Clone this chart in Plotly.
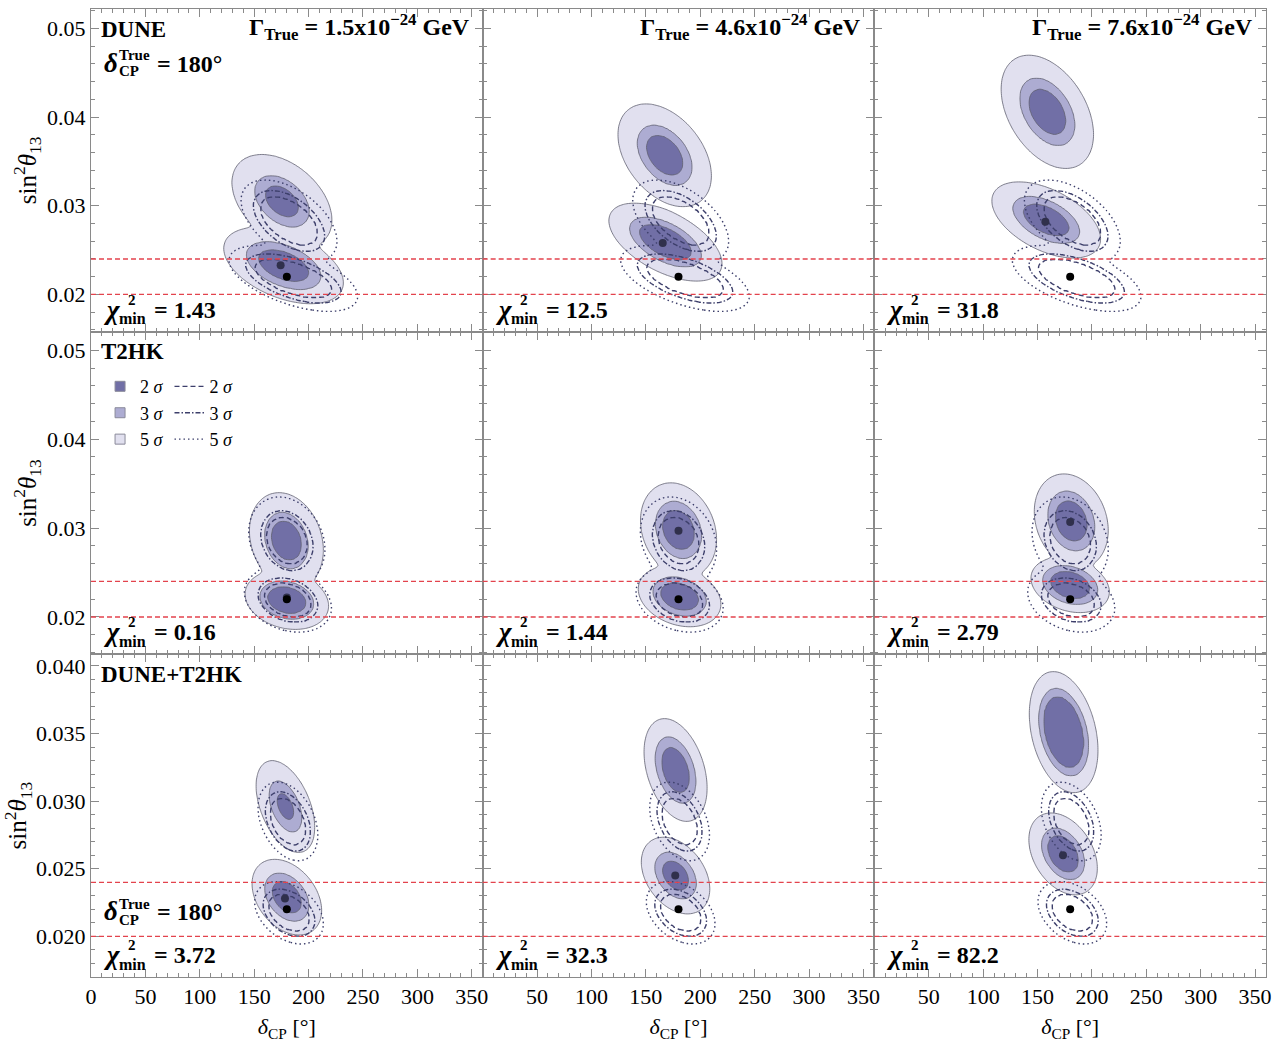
import numpy as np
import plotly.graph_objects as go
from plotly.subplots import make_subplots

# ---------------- data ----------------
experiments = ["DUNE", "T2HK", "DUNE+T2HK"]
gamma_true = ["1.5", "4.6", "7.6"]          # x 10^-24 GeV, one per column
chi2_min = [["1.43", "12.5", "31.8"],
            ["0.16", "1.44", "2.79"],
            ["3.72", "32.3", "82.2"]]
delta_true = 180.0
s13_true = 0.022
s13_band = [0.020, 0.024]
sigma_labels = ["2", "3", "5"]

y_ranges = [[0.0158, 0.0522], [0.0158, 0.0521], [0.0170, 0.04085]]
y_ticks = [[0.02, 0.03, 0.04, 0.05], [0.02, 0.03, 0.04, 0.05],
           [0.020, 0.025, 0.030, 0.035, 0.040]]
y_ticktext = [["0.02", "0.03", "0.04", "0.05"], ["0.02", "0.03", "0.04", "0.05"],
              ["0.020", "0.025", "0.030", "0.035", "0.040"]]
y_minor = [0.002, 0.002, 0.001]

bestfit_delta = [[174.3, 165.5, 157.2], [180.0, 180.0, 180.0], [178.3, 177.0, 173.4]]
bestfit_s13 = [[0.0233, 0.0258, 0.0282], [0.0222, 0.0297, 0.0307], [0.0228, 0.0245, 0.0260]]

# filled allowed regions (fit with decay): two minima per panel [upper, lower]
# centre, 5-sigma half extent in delta and s13, correlation, 2/3-sigma size fractions
fill_cx = [[[175.5, 177.0], [167.3, 168.0], [159.0, 158.0]],
           [[179.6, 180.0], [180.0, 181.0], [181.0, 180.0]],
           [[178.7, 180.0], [177.3, 177.3], [174.0, 173.5]]]
fill_cy = [[[0.0305, 0.02325], [0.0357, 0.0259], [0.0406, 0.0284]],
           [[0.0286, 0.0219], [0.0298, 0.0223], [0.0308, 0.0236]],
           [[0.0296, 0.0229], [0.0323, 0.0245], [0.0351, 0.0261]]]
fill_hx = [[[46.0, 55.0], [43.0, 52.0], [42.5, 50.0]],
           [[34.0, 38.4], [35.0, 38.0], [34.0, 36.0]],
           [[27.0, 32.0], [29.0, 31.5], [31.5, 31.5]]]
fill_hy = [[[0.0053, 0.0043], [0.0058, 0.0044], [0.0064, 0.0043]],
           [[0.0054, 0.0033], [0.0053, 0.0034], [0.0053, 0.0031]],
           [[0.0034, 0.0028], [0.0038, 0.00284], [0.00447, 0.00303]]]
fill_rho = [[[-0.4, -0.45], [-0.4, -0.55], [-0.4, -0.5]],
            [[-0.2, -0.2], [-0.2, -0.25], [-0.2, -0.25]],
            [[-0.45, -0.35], [-0.35, -0.35], [-0.3, -0.35]]]
fill_f2 = [[[0.33, 0.42], [0.39, 0.46], [0.40, 0.42]],
           [[0.41, 0.46], [0.42, 0.46], [0.43, 0.50]],
           [[0.28, 0.42], [0.44, 0.38], [0.59, 0.45]]]
fill_f3 = [[[0.54, 0.62], [0.58, 0.63], [0.59, 0.61]],
           [[0.58, 0.64], [0.60, 0.64], [0.63, 0.70]],
           [[0.55, 0.63], [0.64, 0.60], [0.72, 0.62]]]

# line contours (standard fit), same in every column of a row: [upper, lower]
line_cx = [[182.0, 186.0], [180.0, 181.0], [181.0, 182.0]]
line_cy = [[0.0283, 0.0218], [0.0286, 0.0219], [0.0285, 0.02175]]
line_hx = [[44.0, 59.0], [35.0, 40.0], [27.4, 31.5]]
line_hy = [[0.0046, 0.0037], [0.0049, 0.0036], [0.0029, 0.0023]]
line_rho = [[-0.5, -0.55], [-0.2, -0.25], [-0.35, -0.35]]
line_f2 = [0.60, 0.54, 0.60]
line_f3 = [0.74, 0.68, 0.75]

# ---------------- styles ----------------
SERIF = "Liberation Serif"
DARK, MID, LIGHT = "#716fa6", "#adacd2", "#e1e0ef"
OUTLINE = "#5f5f70"
LINE_C = "#3d3f6b"
RED = "#e3434d"
AX = "#8a8a8a"
DASHES = ["5px,3px", "5px,2px,1.5px,2px", "1.5px,3px"]
FILL_SCALE = [[0, "rgba(255,255,255,0)"], [0.166, "rgba(255,255,255,0)"],
              [0.167, LIGHT], [0.5, LIGHT], [0.501, MID], [0.833, MID],
              [0.834, DARK], [1, DARK]]


def blob_g(X, Y, cx, cy, hx, hy, rho, f2, f3):
    u = (X - cx) / hx
    v = (Y - cy) / hy
    d = np.sqrt(np.clip((u * u - 2 * rho * u * v + v * v) / (1 - rho * rho), 0, None))
    return np.interp(d, [0, f2, f3, 1, 10], [0, 1, 2, 3, 30])


def smin(a, b, k):
    m = np.minimum(a, b)
    return m - k * np.log(np.exp(-(a - m) / k) + np.exp(-(b - m) / k))


fig = make_subplots(rows=3, cols=3, horizontal_spacing=0, vertical_spacing=0)

X = np.arange(80.0, 290.01, 1.5)
for r in range(3):
    lo, hi = y_ranges[r]
    Y = np.linspace(lo, hi, 150)
    XX, YY = np.meshgrid(X, Y)
    gl = None
    for b in range(2):
        g = blob_g(XX, YY, line_cx[r][b], line_cy[r][b], line_hx[r][b], line_hy[r][b],
                   line_rho[r][b], line_f2[r], line_f3[r])
        gl = g if gl is None else smin(gl, g, 0.3)
    gl_list = np.round(gl, 2).tolist()
    for c in range(3):
        gf = None
        for b in range(2):
            g = blob_g(XX, YY, fill_cx[r][c][b], fill_cy[r][c][b], fill_hx[r][c][b],
                       fill_hy[r][c][b], fill_rho[r][c][b], fill_f2[r][c][b], fill_f3[r][c][b])
            gf = g if gf is None else smin(gf, g, 0.2)
        fig.add_trace(go.Contour(
            x=X, y=Y, z=np.round(-gf, 3).tolist(), autocontour=False,
            contours=dict(start=-3, end=-1, size=1, coloring="fill", showlines=True),
            colorscale=FILL_SCALE, line=dict(color=OUTLINE, width=0.8, smoothing=1),
            showscale=False, hoverinfo="skip", showlegend=False), row=r + 1, col=c + 1)
        for lev, dash in zip([1, 2, 3], DASHES):
            fig.add_trace(go.Contour(
                x=X, y=Y, z=gl_list, autocontour=False,
                contours=dict(start=lev, end=lev, size=1, coloring="none"),
                line=dict(color=LINE_C, width=1.4, dash=dash, smoothing=1),
                showscale=False, hoverinfo="skip", showlegend=False), row=r + 1, col=c + 1)
        for v in s13_band:
            fig.add_hline(y=v, line=dict(color=RED, width=1.3, dash="5px,3px"),
                          row=r + 1, col=c + 1)
        fig.add_trace(go.Scatter(x=[bestfit_delta[r][c]], y=[bestfit_s13[r][c]], mode="markers",
                                 marker=dict(size=8, color="#30304c"), showlegend=False,
                                 hoverinfo="skip"), row=r + 1, col=c + 1)
        fig.add_trace(go.Scatter(x=[delta_true], y=[s13_true], mode="markers",
                                 marker=dict(size=8, color="black"), showlegend=False,
                                 hoverinfo="skip"), row=r + 1, col=c + 1)

# legend entries
for lab, col in zip(sigma_labels, [DARK, MID, LIGHT]):
    fig.add_trace(go.Scatter(x=[None], y=[None], mode="markers", name=f"{lab} <i>σ</i>",
                             marker=dict(symbol="square", size=10, color=col,
                                         line=dict(color="#8a8a9a", width=1)),
                             legend="legend"), row=2, col=1)
for lab, dash in zip(sigma_labels, DASHES):
    fig.add_trace(go.Scatter(x=[None], y=[None], mode="lines", name=f"{lab} <i>σ</i>",
                             line=dict(color=LINE_C, width=1.3, dash=dash),
                             legend="legend2"), row=2, col=1)

# axes
for r in range(3):
    for c in range(3):
        fig.update_xaxes(range=[0, 360], tickvals=(list(range(0, 360, 50)) if c == 0 else list(range(50, 360, 50))),
                         ticks="inside", ticklen=8, tickcolor=AX, showline=True, linecolor=AX,
                         linewidth=1, mirror="allticks", showgrid=False, zeroline=False,
                         showticklabels=(r == 2),
                         tickfont=dict(family=SERIF, size=22, color="black"),
                         minor=dict(dtick=10, tick0=0, ticks="inside", ticklen=4, tickcolor=AX),
                         row=r + 1, col=c + 1)
        fig.update_yaxes(range=y_ranges[r], tickvals=y_ticks[r], ticktext=y_ticktext[r],
                         ticks="inside", ticklen=8, tickcolor=AX, showline=True, linecolor=AX,
                         linewidth=1, mirror="allticks", showgrid=False, zeroline=False,
                         showticklabels=(c == 0),
                         tickfont=dict(family=SERIF, size=22, color="black"),
                         minor=dict(dtick=y_minor[r], tick0=0, ticks="inside", ticklen=4, tickcolor=AX),
                         row=r + 1, col=c + 1)
    fig.update_yaxes(title=dict(text="sin<sup>2</sup><i>θ</i><sub>13</sub>",
                                font=dict(family=SERIF, size=25, color="black"), standoff=3),
                     row=r + 1, col=1)
for c in range(3):
    fig.update_xaxes(title=dict(text="<i>δ</i><sub>CP</sub> [°]",
                                font=dict(family=SERIF, size=22, color="black"), standoff=10),
                     row=3, col=c + 1)


def ann(i, text, dx, dy, size, top=True, right=False):
    xr = "x domain" if i == 1 else f"x{i} domain"
    yr = "y domain" if i == 1 else f"y{i} domain"
    fig.add_annotation(xref=xr, yref=yr, x=1 if right else 0, y=1 if top else 0,
                       xshift=-dx if right else dx, yshift=-dy if top else dy,
                       xanchor="right" if right else "left", yanchor="middle",
                       text=text, showarrow=False,
                       font=dict(family=SERIF, size=size, color="black"))


for r in range(3):
    ann(r * 3 + 1, f"<b>{experiments[r]}</b>", 8, 20, 23)
    for c in range(3):
        i = r * 3 + c + 1
        ann(i, "<b><i>χ</i></b>", 10, 22, 27, top=False)
        ann(i, "<b>2</b>", 35, 32, 15, top=False)
        ann(i, "<b>min</b>", 26, 13, 16, top=False)
        ann(i, f"<b>= {chi2_min[r][c]}</b>", 61, 22, 24, top=False)
for c in range(3):
    ann(c + 1, f"<b>Γ<sub>True</sub> = {gamma_true[c]}x10<sup>−24</sup> GeV</b>", 11, 18, 24, right=True)

# delta_CP^True labels
for i, top, ys in [(1, True, (54, 46, 62, 55)), (7, False, (66, 73, 57, 65))]:
    ann(i, "<b><i>δ</i></b>", 11, ys[0], 27, top=top)
    ann(i, "<b>True</b>", 26, ys[1], 15, top=top)
    ann(i, "<b>CP</b>", 26, ys[2], 15, top=top)
    ann(i, "<b>= 180°</b>", 64, ys[3], 24, top=top)

fig.update_layout(
    width=1280, height=1043,
    margin=dict(l=91, r=9, t=8, b=65),
    paper_bgcolor="white", plot_bgcolor="white",
    font=dict(family=SERIF, color="black"),
    legend=dict(x=0.0077, y=0.629, xanchor="left", yanchor="top", bgcolor="rgba(0,0,0,0)",
                font=dict(family=SERIF, size=18, color="black"), itemwidth=30, tracegroupgap=0),
    legend2=dict(x=0.0668, y=0.629, xanchor="left", yanchor="top", bgcolor="rgba(0,0,0,0)",
                 font=dict(family=SERIF, size=18, color="black"), itemwidth=30, tracegroupgap=0),
)

fig.write_html("out.html", config={"displayModeBar": False},
               post_script="document.body.style.margin='0px';")
